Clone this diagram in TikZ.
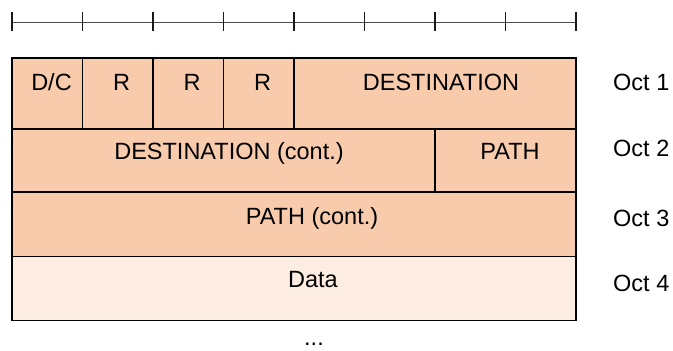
\documentclass[tikz,border=0pt]{standalone}
\usepackage{fontspec}
\setmainfont{Liberation Sans}
\usetikzlibrary{positioning}
\definecolor{hdrfill}{HTML}{F8CBAD}
\definecolor{datafill}{HTML}{FCECE1}

\begin{document}
\begin{tikzpicture}[
x=1pt,
y=-1pt,
font=\fontsize{23.5}{28}\selectfont,
field/.style={rectangle,
								draw=black,
								line width=1.5pt,
								fill=hdrfill,
								inner sep=0pt,
								outer sep=0pt,
								anchor=north west},
lbl/.style={anchor=base, inner sep=0pt},
octlbl/.style={anchor=base west, inner sep=0pt}]
  \useasboundingbox (0,0) rectangle (673,351);
%ruler
  \draw[black!70, line width=1.2pt] (12,22.5) -- (576,22.5);
  \foreach \i in {0,...,8}
    \draw[black!90, line width=1.2pt] (12+70.5*\i,12) -- (12+70.5*\i,31);
%oct 1
  \node[field, minimum width=70.5pt, minimum height=71pt] (dc) at (12,58) {};
  \node[field, minimum width=70.5pt, minimum height=71pt] (r1) at (82.5,58) {};
  \node[field, minimum width=70.5pt, minimum height=71pt] (r2) at (153,58) {};
  \node[field, minimum width=70.5pt, minimum height=71pt] (r3) at (223.5,58) {};
  \node[field, minimum width=282pt, minimum height=71pt] (dst) at (294,58) {};
  \node[lbl] (dctext) at (51.5,90.7) {D/C};
  \node[lbl] (r1text) at (121.5,90.7) {R};
  \node[lbl] (r2text) at (192,90.7) {R};
  \node[lbl] (r3text) at (262.5,90.7) {R};
  \node[lbl] (dsttext) at (441,90.7) {DESTINATION};
%oct 2
  \node[field, minimum width=423pt, minimum height=63pt] (dstc) at (12,129) {};
  \node[field, minimum width=141pt, minimum height=63pt] (path) at (435,129) {};
  \node[lbl] (dstctext) at (229,159.7) {DESTINATION (cont.)};
  \node[lbl] (pathtext) at (510,159.7) {PATH};
%oct 3
  \node[field, minimum width=564pt, minimum height=64.5pt] (pathc) at (12,192) {};
  \node[lbl] (pathctext) at (312,224) {PATH (cont.)};
%oct 4
  \node[field, fill=datafill, minimum width=564pt, minimum height=64pt] (data) at (12,256.5) {};
  \node[lbl] (datatext) at (313,287.3) {Data};
%octets
  \node[octlbl] (oct1) at (613,90.7) {Oct 1};
  \node[octlbl] (oct2) at (613,156) {Oct 2};
  \node[octlbl] (oct3) at (613,226) {Oct 3};
  \node[octlbl] (oct4) at (613,291) {Oct 4};
  \node[lbl] (more) at (314,345) {...};
\end{tikzpicture}
\end{document}
